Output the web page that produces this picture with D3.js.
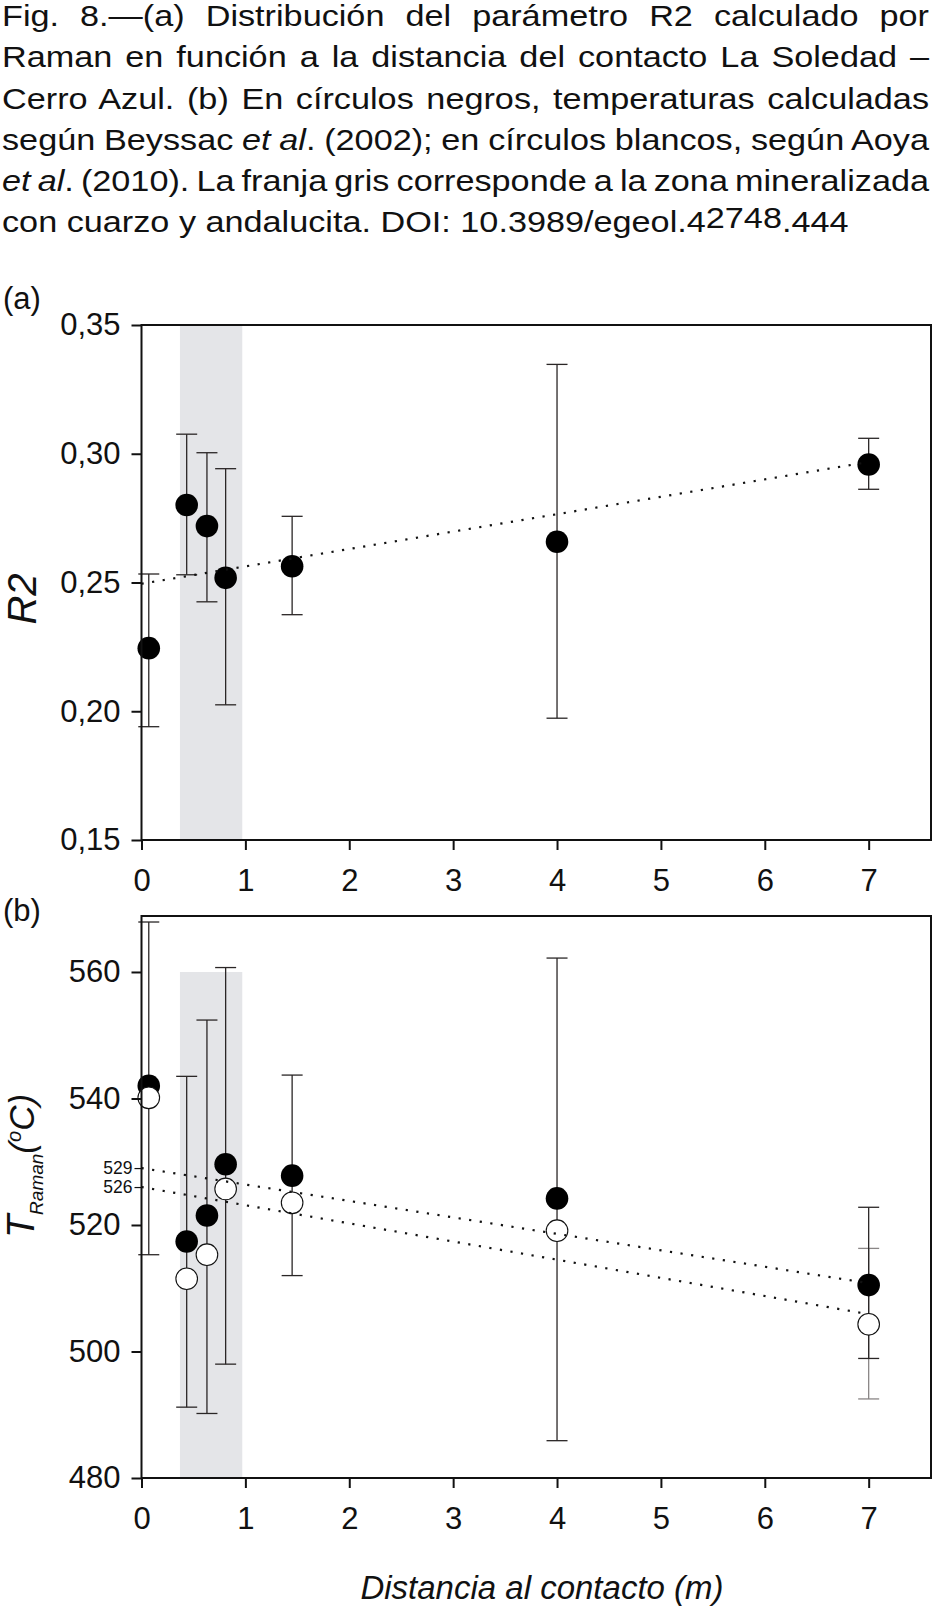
<!DOCTYPE html>
<html><head><meta charset="utf-8">
<script src="https://cdn.jsdelivr.net/npm/d3@7"></script>
<style>
body{margin:0;background:#fff}
svg{display:block}
text{font-family:"Liberation Sans",Arial,Helvetica,sans-serif;fill:#111}
</style>
</head><body>
<svg id="c" width="933" height="1608"></svg>
<script>
// ---------------- DATA ----------------
const distance   = [0.07, 0.435, 0.63, 0.81, 1.45, 4.0, 7.0];
const r2         = [0.2245, 0.2801, 0.2719, 0.2518, 0.2563, 0.2658, 0.2958];
const r2Lo       = [0.1940, 0.2530, 0.2425, 0.2025, 0.2375, 0.1973, 0.2862];
const r2Hi       = [0.2533, 0.3076, 0.3004, 0.2942, 0.2757, 0.3347, 0.3060];
const tBeyssac   = [542.0, 517.4, 521.5, 529.6, 527.8, 524.2, 510.5];
const tBeyssacLo = [515.3, 491.2, 490.2, 498.0, 512.0, 485.9, 498.9];
const tBeyssacHi = [567.9, 543.5, 552.4, 560.7, 543.7, 562.2, 522.8];
const tAoya      = [540.1, 511.5, 515.3, 525.7, 523.5, 519.1, 504.3];
const tAoyaLo    = [null, null, null, null, null, null, 492.5];
const tAoyaHi    = [null, null, null, null, null, null, 516.3];
const bandX      = [0.37, 0.97];
const bandTopB   = 560;
const trendR2      = [[0, 0.2495], [7, 0.2968]];
const trendBeyssac = [[0, 529], [7, 510.8]];
const trendAoya    = [[0, 526], [7, 505.9]];
const xTicks     = [0, 1, 2, 3, 4, 5, 6, 7];
const r2Ticks    = [0.15, 0.20, 0.25, 0.30, 0.35];
const tTicks     = [480, 500, 520, 540, 560];
const trendLabels = [529, 526];
const captionLines = [
  [{t:"Fig. 8.—(a) Distribución del parámetro R2 calculado por"}],
  [{t:"Raman en función a la distancia del contacto La Soledad –"}],
  [{t:"Cerro Azul. (b) En círculos negros, temperaturas calculadas"}],
  [{t:"según Beyssac "},{t:"et al",i:1},{t:". (2002); en círculos blancos, según Aoya"}],
  [{t:"et al",i:1},{t:". (2010). La franja gris corresponde a la zona mineralizada"}],
  [{t:"con cuarzo y andalucita. DOI: 10.3989/egeol.4"},{t:"2748",dy:-4},{t:".444",dy:4}]
];

// ---------------- LAYOUT ----------------
const svg = d3.select("#c");
const L = 141.5, R = 931;
const A = {top:325, bottom:840};
const B = {top:916, bottom:1478};

// caption
const cap = svg.append("g").attr("transform","translate(2,0)");
const capG = cap.append("g");
const capTexts = captionLines.map((parts,i)=>{
  const t = capG.append("text").attr("x",0).attr("y",26 + i*41.3)
     .style("font-size","29.5px");
  parts.forEach(p=>{
    const s = t.append("tspan").text(p.t);
    if(p.i) s.style("font-style","italic");
    if(p.dy) s.attr("dy",p.dy);
  });
  return t;
});
const lastW = capTexts[5].node().getComputedTextLength();
const k = 847/lastW;
capG.attr("transform",`scale(${k},1)`);
const target = 927/k;
capTexts.slice(0,5).forEach((t,i)=>{
  const w = t.node().getComputedTextLength();
  const full = captionLines[i].map(p=>p.t).join("");
  const n = (full.match(/ /g)||[]).length;
  t.style("word-spacing", ((target-w)/n)+"px");
});

const x = d3.scaleLinear().domain([0, 7.6]).range([L, R]);

function frame(g, top, bottom){
  g.append("rect").attr("x",L).attr("y",top).attr("width",R-L).attr("height",bottom-top)
   .attr("fill","none").attr("stroke","#111").attr("stroke-width",2);
}
function xAxis(g, bottom){
  const ax = g.append("g").attr("transform",`translate(0,${bottom})`)
    .call(d3.axisBottom(x).tickValues(xTicks).tickSize(10).tickPadding(19).tickFormat(d3.format("d")));
  ax.select(".domain").remove();
  ax.selectAll(".tick line").attr("stroke","#111").attr("stroke-width",2);
  ax.selectAll(".tick text").style("font-size","31px").attr("fill","#111");
}
function dotted(g, pts, yS){
  g.append("path").attr("d", d3.line().x(d=>x(d[0])).y(d=>yS(d[1]))(pts))
   .attr("fill","none").attr("stroke","#111").attr("stroke-width",2.2)
   .attr("stroke-dasharray","2.2 8.5");
}
function errBars(g, xs, lo, hi, yS, color){
  const idx = xs.map((d,i)=>i).filter(i=>lo[i]!=null);
  const eb = g.append("g").attr("stroke",color).attr("stroke-width",1.3).attr("fill","none");
  eb.selectAll(".v").data(idx).join("line")
    .attr("x1",i=>x(xs[i])).attr("x2",i=>x(xs[i]))
    .attr("y1",i=>yS(hi[i])).attr("y2",i=>yS(lo[i]));
  eb.selectAll(".ch").data(idx).join("line")
    .attr("x1",i=>x(xs[i])-10.5).attr("x2",i=>x(xs[i])+10.5)
    .attr("y1",i=>yS(hi[i])).attr("y2",i=>yS(hi[i]));
  eb.selectAll(".cl").data(idx).join("line")
    .attr("x1",i=>x(xs[i])-10.5).attr("x2",i=>x(xs[i])+10.5)
    .attr("y1",i=>yS(lo[i])).attr("y2",i=>yS(lo[i]));
}

// ---------------- PANEL A ----------------
const gA = svg.append("g");
const yA = d3.scaleLinear().domain([0.15, 0.35]).range([A.bottom, A.top]);
gA.append("rect").attr("x",x(bandX[0])).attr("width",x(bandX[1])-x(bandX[0]))
  .attr("y",A.top).attr("height",A.bottom-A.top).attr("fill","#e4e5e8");
errBars(gA, distance, r2Lo, r2Hi, yA, "#2a2626");
gA.selectAll("circle.b").data(distance).join("circle")
  .attr("cx",d=>x(d)).attr("cy",(d,i)=>yA(r2[i])).attr("r",11.3).attr("fill","#000");
dotted(gA, trendR2, yA);
const ayA = gA.append("g").attr("transform",`translate(${L},0)`)
  .call(d3.axisLeft(yA).tickValues(r2Ticks).tickSize(10).tickPadding(11)
        .tickFormat(d=>d.toFixed(2).replace(".",",")));
ayA.select(".domain").remove();
ayA.selectAll(".tick line").attr("stroke","#111").attr("stroke-width",2);
ayA.selectAll(".tick text").style("font-size","31px").attr("fill","#111");
xAxis(gA, A.bottom);
frame(gA, A.top, A.bottom);
gA.append("text").attr("x",3).attr("y",309).style("font-size","31px").text("(a)");
gA.append("text").attr("transform",`translate(36,599) rotate(-90)`)
  .attr("text-anchor","middle").style("font-size","40px").style("font-style","italic").text("R2");

// ---------------- PANEL B ----------------
const gB = svg.append("g");
const yB = d3.scaleLinear().domain([480, 568.85]).range([B.bottom, B.top]);
gB.append("rect").attr("x",x(bandX[0])).attr("width",x(bandX[1])-x(bandX[0]))
  .attr("y",yB(bandTopB)).attr("height",B.bottom-yB(bandTopB)).attr("fill","#e4e5e8");
errBars(gB, distance, tAoyaLo, tAoyaHi, yB, "#8a8686");
errBars(gB, distance, tBeyssacLo, tBeyssacHi, yB, "#2a2626");
gB.selectAll("circle.b").data(distance).join("circle")
  .attr("cx",d=>x(d)).attr("cy",(d,i)=>yB(tBeyssac[i])).attr("r",11.3).attr("fill","#000");
gB.selectAll("circle.w").data(distance).join("circle")
  .attr("cx",d=>x(d)).attr("cy",(d,i)=>yB(tAoya[i])).attr("r",10.8)
  .attr("fill","#fff").attr("stroke","#111").attr("stroke-width",1.1);
dotted(gB, trendBeyssac, yB);
dotted(gB, trendAoya, yB);
const ayB = gB.append("g").attr("transform",`translate(${L},0)`)
  .call(d3.axisLeft(yB).tickValues(tTicks).tickSize(10).tickPadding(11).tickFormat(d3.format("d")));
ayB.select(".domain").remove();
ayB.selectAll(".tick line").attr("stroke","#111").attr("stroke-width",2);
ayB.selectAll(".tick text").style("font-size","31px").attr("fill","#111");
const ayB2 = gB.append("g").attr("transform",`translate(${L},0)`)
  .call(d3.axisLeft(yB).tickValues(trendLabels).tickSize(7).tickPadding(2).tickFormat(d3.format("d")));
ayB2.select(".domain").remove();
ayB2.selectAll(".tick line").attr("stroke","#111").attr("stroke-width",1.2);
ayB2.selectAll(".tick text").style("font-size","17.5px").attr("fill","#111");
xAxis(gB, B.bottom);
frame(gB, B.top, B.bottom);
gB.append("text").attr("x",3).attr("y",921).style("font-size","31px").text("(b)");
const tl = gB.append("text").attr("transform",`translate(34,1166) rotate(-90)`)
  .attr("text-anchor","middle").style("font-style","italic");
tl.append("tspan").style("font-size","38px").text("T");
tl.append("tspan").style("font-size","19px").attr("dy",9).text("Raman");
tl.append("tspan").style("font-size","35px").attr("dy",-9).text("(");
tl.append("tspan").style("font-size","20px").attr("dy",-13).text("o");
tl.append("tspan").style("font-size","35px").attr("dy",13).text("C)");
svg.append("text").attr("x",542).attr("y",1599).attr("text-anchor","middle")
  .style("font-size","33px").style("font-style","italic").text("Distancia al contacto (m)");
</script>
</body></html>
